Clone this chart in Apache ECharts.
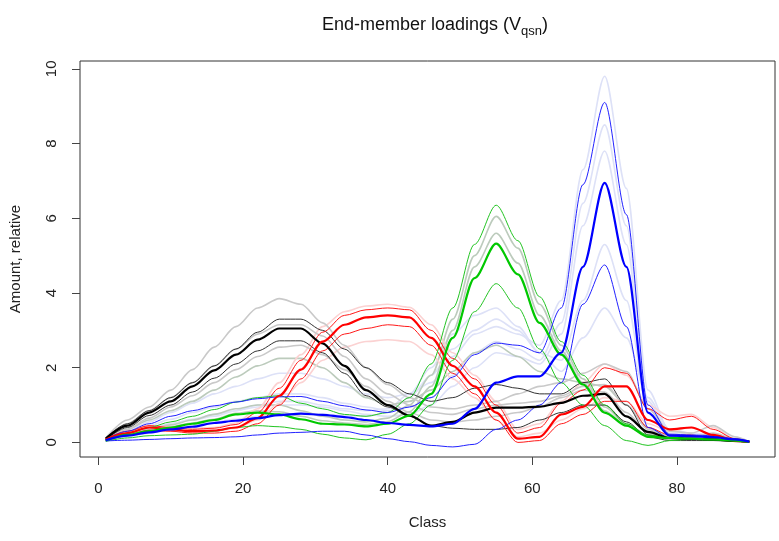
<!DOCTYPE html>
<html><head><meta charset="utf-8">
<script src="https://cdn.jsdelivr.net/npm/echarts@6/dist/echarts.min.js"></script>
<style>html,body{margin:0;padding:0;background:#fff}#c{width:779px;height:541px}</style>
</head><body><div id="c"></div>
<script>
var classes = [1,4,7,10,13,16,19,22,25,28,31,34,37,40,43,46,49,52,55,58,61,64,67,70,73,76,79,82,85,88,90];
var xTicks = [0,20,40,60,80];
var yTicks = [0,2,4,6,8,10];

// EM1 (black)
var em1Mean  = [0.1,0.45,0.8,1.1,1.5,1.93,2.35,2.75,3.05,3.05,2.65,2.05,1.4,1.0,0.72,0.45,0.55,0.8,0.93,0.93,0.96,1.06,1.25,1.3,0.7,0.28,0.12,0.1,0.08,0.04,0.02];
var em1Upper = [0.12,0.5,0.85,1.2,1.6,2.05,2.5,2.95,3.3,3.3,3.0,2.5,2.0,1.6,1.3,1.1,1.2,1.45,1.55,1.45,1.3,1.3,1.6,1.7,1.0,0.2,0.1,0.1,0.08,0.04,0.02];
var em1Lower = [0.08,0.4,0.72,1.0,1.35,1.72,2.1,2.45,2.72,2.72,2.4,1.85,1.25,0.95,0.7,0.45,0.38,0.35,0.35,0.4,0.6,0.8,1.0,1.0,0.55,0.15,0.05,0.05,0.05,0.03,0.01];
var em1Runs = [
  [0.12,0.6,0.95,1.4,1.95,2.55,3.1,3.6,3.85,3.7,3.2,2.6,2.0,1.55,1.2,0.95,0.9,1.0,1.1,1.3,1.5,1.6,1.85,2.1,1.9,0.9,0.3,0.25,0.45,0.15,0.02],
  [0.1,0.5,0.85,1.2,1.6,2.05,2.5,2.9,3.15,3.15,2.85,2.3,1.7,1.3,1.0,0.8,0.75,0.9,1.0,1.05,1.1,1.25,1.5,1.55,1.0,0.35,0.15,0.15,0.25,0.1,0.02],
  [0.08,0.35,0.65,0.95,1.25,1.6,1.95,2.3,2.55,2.6,2.35,1.95,1.5,1.1,0.8,0.6,0.55,0.6,0.7,0.8,0.95,1.2,1.4,1.35,0.8,0.25,0.1,0.1,0.1,0.05,0.02]
];

// EM2 (red)
var em2Mean  = [0.08,0.25,0.4,0.35,0.3,0.32,0.4,0.65,1.25,1.95,2.7,3.15,3.35,3.4,3.35,2.8,2.05,1.5,0.8,0.1,0.15,0.75,0.95,1.5,1.5,0.6,0.35,0.4,0.2,0.05,0.02];
var em2Upper = [0.1,0.3,0.45,0.4,0.35,0.38,0.48,0.8,1.45,2.2,2.95,3.4,3.55,3.6,3.55,3.0,2.25,1.7,1.0,0.25,0.4,1.05,1.4,2.0,1.85,0.9,0.6,0.7,0.35,0.1,0.02];
var em2Lower = [0.06,0.2,0.33,0.3,0.25,0.25,0.3,0.5,1.0,1.7,2.45,2.9,3.05,3.15,3.1,2.6,1.85,1.3,0.6,0.0,0.05,0.5,0.75,1.1,1.1,0.4,0.2,0.2,0.1,0.02,0.01];
var em2Runs = [
  [0.1,0.3,0.45,0.42,0.38,0.4,0.52,0.9,1.6,2.35,3.1,3.5,3.65,3.7,3.62,3.15,2.4,1.8,1.1,0.35,0.5,1.1,1.6,2.1,1.8,1.0,0.7,0.75,0.4,0.1,0.02],
  [0.06,0.2,0.3,0.3,0.28,0.3,0.38,0.6,1.05,1.6,2.2,2.55,2.7,2.75,2.7,2.35,1.7,1.2,0.6,0.15,0.25,0.6,0.9,1.2,1.1,0.5,0.3,0.4,0.2,0.05,0.02]
];

// EM3 (green)
var em3Mean  = [0.05,0.2,0.3,0.4,0.5,0.6,0.75,0.8,0.75,0.62,0.5,0.48,0.43,0.5,0.72,1.3,2.8,4.4,5.32,4.5,3.2,2.35,1.55,0.8,0.45,0.15,0.12,0.1,0.08,0.05,0.02];
var em3Upper = [0.05,0.25,0.4,0.55,0.7,0.88,1.08,1.2,1.25,1.05,0.9,0.75,0.7,0.8,1.2,2.1,3.6,5.3,6.35,5.4,3.9,2.7,1.8,1.0,0.5,0.2,0.12,0.1,0.08,0.05,0.02];
var em3Lower = [0.03,0.12,0.18,0.2,0.22,0.3,0.4,0.45,0.42,0.35,0.22,0.12,0.07,0.22,0.5,1.0,2.2,3.5,4.25,3.6,2.5,1.6,1.0,0.45,0.05,-0.08,0.05,0.08,0.06,0.03,0.01];
var em3Runs = [
  [0.05,0.22,0.35,0.47,0.6,0.75,0.9,1.0,1.0,0.85,0.7,0.6,0.55,0.65,1.0,1.8,3.3,5.0,6.05,5.2,3.7,2.6,1.7,0.95,0.5,0.18,0.12,0.1,0.08,0.05,0.02],
  [0.05,0.2,0.32,0.42,0.52,0.62,0.78,0.85,0.82,0.7,0.58,0.52,0.48,0.56,0.82,1.5,3.0,4.7,5.6,4.8,3.4,2.45,1.6,0.85,0.45,0.15,0.1,0.08,0.06,0.04,0.02],
  [0.08,0.35,0.6,0.85,1.1,1.4,1.75,2.05,2.25,2.25,2.0,1.6,1.2,1.0,1.1,1.4,1.9,2.4,2.6,2.3,1.9,1.7,1.6,1.5,1.0,0.4,0.15,0.12,0.1,0.05,0.02]
];

// EM4 (blue)
var em4Mean  = [0.06,0.18,0.27,0.35,0.42,0.52,0.58,0.65,0.73,0.77,0.74,0.68,0.6,0.52,0.47,0.43,0.5,0.9,1.6,1.77,1.77,2.4,4.7,6.95,4.7,0.8,0.18,0.17,0.14,0.08,0.02];
var em4Upper = [0.08,0.3,0.5,0.7,0.85,0.98,1.08,1.17,1.22,1.23,1.1,0.98,0.87,0.8,0.95,1.2,1.75,2.35,2.66,2.6,2.4,3.6,6.9,9.1,6.1,1.0,0.22,0.2,0.18,0.1,0.03];
var em4Lower = [0.04,0.06,0.08,0.1,0.12,0.13,0.15,0.2,0.25,0.27,0.3,0.3,0.2,0.1,0.02,-0.08,-0.12,-0.05,0.35,0.6,1.0,1.6,3.7,4.75,3.1,0.4,0.12,0.1,0.08,0.05,0.02];
var em4Runs = [
  [0.07,0.3,0.55,0.8,1.05,1.3,1.5,1.7,1.85,1.85,1.7,1.5,1.3,1.2,1.3,1.6,2.3,2.9,3.1,2.9,2.6,3.8,7.3,9.8,6.8,1.4,0.3,0.2,0.2,0.1,0.03],
  [0.06,0.25,0.45,0.62,0.8,0.95,1.1,1.2,1.3,1.3,1.2,1.05,0.95,0.85,0.95,1.2,1.8,2.4,2.7,2.5,2.2,3.2,6.4,8.5,5.8,1.1,0.25,0.18,0.18,0.1,0.03],
  [0.06,0.22,0.38,0.5,0.62,0.75,0.85,0.95,1.0,1.0,0.95,0.85,0.75,0.7,0.75,1.0,1.5,2.0,2.4,2.3,2.1,2.9,5.8,7.8,5.3,0.9,0.22,0.18,0.16,0.08,0.02],
  [0.05,0.15,0.25,0.35,0.45,0.55,0.62,0.7,0.75,0.78,0.75,0.72,0.7,0.8,1.2,1.8,2.5,3.0,3.3,3.0,2.4,2.2,3.8,5.3,3.8,0.9,0.2,0.15,0.12,0.06,0.02],
  [0.05,0.2,0.35,0.5,0.6,0.7,0.85,1.0,1.1,1.1,1.0,0.9,0.85,0.9,1.3,2.0,2.9,3.4,3.6,3.1,2.4,1.9,2.8,3.6,2.8,1.2,0.35,0.25,0.2,0.08,0.02]
];

function pairs(v){ return classes.map(function(c,i){ return [c, v[i]]; }); }
function line(v, color, width, z){
  return {type:'line', data:pairs(v), showSymbol:false, silent:true, smooth:0.3, smoothMonotone:'x',
          lineStyle:{color:color, width:width}, z:z, emphasis:{disabled:true}};
}
var series = [];
em4Runs.forEach(function(r){ series.push(line(r,'#dde1f7',1.6,1)); });
em3Runs.forEach(function(r){ series.push(line(r,'#bccbbc',1.6,1)); });
em2Runs.forEach(function(r){ series.push(line(r,'#fbd2d2',1.6,1)); });
em1Runs.forEach(function(r){ series.push(line(r,'#c9c9c9',1.6,1)); });
[[em1Upper,em1Lower,'#333333'],[em2Upper,em2Lower,'#ff1a1a'],[em3Upper,em3Lower,'#22c422'],[em4Upper,em4Lower,'#2222ff']].forEach(function(t){
  series.push(line(t[0],t[2],1,2)); series.push(line(t[1],t[2],1,2));
});
series.push(line(em1Mean,'#000000',2.2,3));
series.push(line(em2Mean,'#ff0000',2.2,3));
series.push(line(em3Mean,'#00c800',2.2,3));
series.push(line(em4Mean,'#0000ff',2.2,3));

var font = 'Liberation Sans, Arial, sans-serif';
var chart = echarts.init(document.getElementById('c'), null, {renderer:'canvas'});
chart.setOption({
  animation:false,
  backgroundColor:'#ffffff',
  title:{
    text:'{a|End-member loadings (V}{s|qsn}{a|)}',
    left:430, top:8, textAlign:'center',
    textStyle:{rich:{
      a:{fontFamily:font, fontSize:18, fontWeight:'normal', color:'#111', lineHeight:24},
      s:{fontFamily:font, fontSize:13, fontWeight:'normal', color:'#111', lineHeight:14, padding:[12,0,0,0]}
    }}
  },
  grid:{left:78, right:4, top:61, bottom:84, show:true, borderColor:'#333', borderWidth:1, backgroundColor:'transparent'},
  xAxis:{type:'value', min:-2.56, max:93.56,
    name:'Class', nameLocation:'middle', nameGap:58,
    nameTextStyle:{fontFamily:font, fontSize:15, color:'#222'},
    axisLine:{show:false, onZero:false},
    axisTick:{show:true, length:8, customValues:xTicks, lineStyle:{color:'#444'}},
    axisLabel:{customValues:xTicks, fontFamily:font, fontSize:15, color:'#222', margin:24},
    splitLine:{show:false}},
  yAxis:{type:'value', min:-0.39, max:10.21,
    name:'Amount, relative', nameLocation:'middle', nameGap:57, nameRotate:90,
    nameTextStyle:{fontFamily:font, fontSize:15, color:'#222'},
    axisLine:{show:false, onZero:false},
    axisTick:{show:true, length:8, customValues:yTicks, lineStyle:{color:'#444'}},
    axisLabel:{customValues:yTicks, rotate:90, fontFamily:font, fontSize:15, color:'#222', margin:21},
    splitLine:{show:false}},
  series:series
});
</script></body></html>
